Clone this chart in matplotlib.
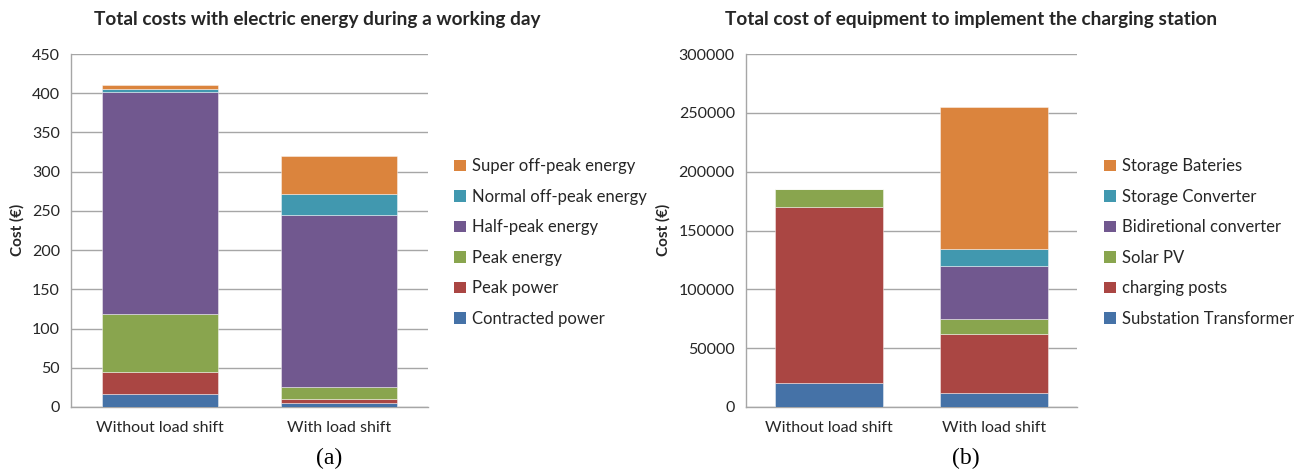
import matplotlib
matplotlib.use("Agg")
import matplotlib.pyplot as plt
from matplotlib.patches import Patch

# ---------------- data ----------------
categories = ["Without load shift", "With load shift"]

energy_series = ["Contracted power", "Peak power", "Peak energy",
                 "Half-peak energy", "Normal off-peak energy", "Super off-peak energy"]
contracted_power = [16, 5]
peak_power = [29, 5]
peak_energy = [73, 15]
half_peak_energy = [284, 219.5]
normal_off_peak_energy = [3.5, 27]
super_off_peak_energy = [5.5, 48]

equip_series = ["Substation Transformer", "charging posts", "Solar PV",
                "Bidiretional converter", "Storage Converter", "Storage Bateries"]
substation_transformer = [20000, 12000]
charging_posts = [150000, 50000]
solar_pv = [15500, 12500]
bidirectional_converter = [0, 45000]
storage_converter = [0, 14500]
storage_batteries = [0, 121000]

energy_ticks = [0, 50, 100, 150, 200, 250, 300, 350, 400, 450]
equip_ticks = [0, 50000, 100000, 150000, 200000, 250000, 300000]

colors = ["#4572A7", "#AA4643", "#89A54E", "#71588F", "#4198AF", "#DB843D"]

# ---------------- figure ----------------
W, H = 1295, 470
fig = plt.figure(figsize=(W / 100, H / 100), dpi=100)
plt.rcParams['font.family'] = ['Lato', 'DejaVu Sans']

grid_c = "#a6a6a6"
text_c = "#262626"
FS = 11.5


def px_axes(x0, y0, x1, y1):
    return fig.add_axes([x0 / W, 1 - y1 / H, (x1 - x0) / W, (y1 - y0) / H])


def stacked(ax, series_vals, names, ticks, ymax):
    bottom = [0.0] * len(categories)
    xs = list(range(len(categories)))
    for vals, name, c in zip(series_vals, names, colors):
        ax.bar(xs, vals, width=0.65, bottom=bottom, color=c, label=name,
               edgecolor=(1, 1, 1, 0.5), linewidth=0.6, zorder=3)
        bottom = [b + v for b, v in zip(bottom, vals)]
    ax.set_xlim(-0.5, 1.5)
    ax.set_ylim(0, ymax)
    ax.set_yticks(ticks)
    ax.set_xticks(xs)
    ax.set_xticklabels(categories)
    ax.yaxis.grid(True, color=grid_c, linewidth=1.0, zorder=0)
    ax.set_axisbelow(True)
    for s in ["top", "right"]:
        ax.spines[s].set_visible(False)
    for s in ["left", "bottom"]:
        ax.spines[s].set_color(grid_c)
        ax.spines[s].set_linewidth(1.0)
    ax.tick_params(axis="both", length=0, labelsize=FS, colors=text_c)
    ax.tick_params(axis="y", pad=8)
    ax.tick_params(axis="x", pad=10)


ax1 = px_axes(71, 54, 428, 407)
stacked(ax1, [contracted_power, peak_power, peak_energy, half_peak_energy,
              normal_off_peak_energy, super_off_peak_energy],
        energy_series, energy_ticks, 450)

ax2 = px_axes(746, 54, 1077, 407)
stacked(ax2, [substation_transformer, charging_posts, solar_pv,
              bidirectional_converter, storage_converter, storage_batteries],
        equip_series, equip_ticks, 300000)

# y labels
fig.text(17 / W, 1 - 230 / H, "Cost (€)", rotation=90, ha="center", va="center",
         fontsize=11, fontweight="bold", color=text_c)
fig.text(663 / W, 1 - 230 / H, "Cost (€)", rotation=90, ha="center", va="center",
         fontsize=11, fontweight="bold", color=text_c)

# titles
fig.text(317 / W, 1 - 20 / H, "Total costs with electric energy during a working day",
         ha="center", va="center", fontsize=13.7, fontweight="bold", color=text_c)
fig.text(971 / W, 1 - 20 / H, "Total cost of equipment to implement the charging station",
         ha="center", va="center", fontsize=13.7, fontweight="bold", color=text_c)


def legend(names, x_px):
    handles = [Patch(facecolor=c, edgecolor="none", label=n) for n, c in zip(names, colors)][::-1]
    fig.legend(handles=handles, loc="center left",
               bbox_to_anchor=(x_px / W, 1 - 242.5 / H), frameon=False,
               fontsize=12, handlelength=0.7, handleheight=0.7,
               handletextpad=0.35, labelspacing=0.87, borderaxespad=0,
               borderpad=0, labelcolor=text_c)


legend(energy_series, 454)
legend(equip_series, 1104)

# sub-captions
fig.text(329 / W, 1 - 458 / H, "(a)", ha="center", va="center",
         fontsize=17, family="Liberation Serif", color="black")
fig.text(966 / W, 1 - 458 / H, "(b)", ha="center", va="center",
         fontsize=17, family="Liberation Serif", color="black")

fig.savefig("out.png", dpi=100)
